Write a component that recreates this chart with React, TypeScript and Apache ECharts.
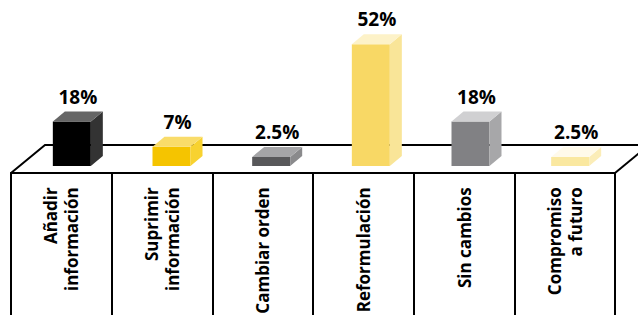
import React, { useEffect, useRef } from "react";
import * as echarts from "echarts";

const categories = [
  "Añadir\ninformación",
  "Suprimir\ninformación",
  "Cambiar orden",
  "Reformulación",
  "Sin cambios",
  "Compromiso\na futuro",
];
const values = [18, 7, 2.5, 52, 18, 2.5];
const frontColors = ["#000000", "#F5C400", "#58585A", "#F8D865", "#818184", "#FAE8A0"];
const sideColors = ["#333333", "#F8D230", "#8A8A8C", "#F9E598", "#A7A7A9", "#FBEDB8"];
const topColors = ["#666666", "#F9DC6A", "#A5A5A7", "#FDF2C8", "#D0D0D2", "#FFFAEA"];

const Y_MIN = -1.5;
const Y_MAX = 60;
const FONT = "'Open Sans', 'DejaVu Sans', sans-serif";

export default function App() {
  const ref = useRef<HTMLDivElement>(null);
  useEffect(() => {
    if (!ref.current) return;
    const chart = echarts.init(ref.current, null, { renderer: "svg" });
    const BAR_W = 38;
    const DX = 12;
    const DY = 10;
    chart.setOption({
      animation: false,
      backgroundColor: "#ffffff",
      grid: [
        { left: 22, width: 598, top: 26, height: 140 },
        { left: 11, width: 604, top: 172, height: 1 },
      ],
      xAxis: [
        {
          type: "category",
          gridIndex: 0,
          data: categories,
          show: false,
        },
        {
          type: "category",
          gridIndex: 1,
          data: categories,
          position: "bottom",
          boundaryGap: true,
          axisLine: { show: true, onZero: false, lineStyle: { color: "#000", width: 2 } },
          axisTick: {
            show: true,
            inside: false,
            length: 150,
            interval: 0,
            alignWithLabel: false,
            lineStyle: { color: "#000", width: 2 },
          },
          axisLabel: {
            show: true,
            inside: false,
            rotate: 90,
            interval: 0,
            margin: 15,
            fontFamily: FONT,
            fontWeight: "bold",
            fontSize: 17,
            lineHeight: 21,
            color: "#000",
          },
          splitLine: { show: false },
        },
      ],
      yAxis: [
        { type: "value", gridIndex: 0, min: Y_MIN, max: Y_MAX, show: false },
        { type: "value", gridIndex: 1, min: 0, max: 1, show: false },
      ],
      graphic: [
        {
          type: "polyline",
          z: 0,
          shape: { points: [[11, 173], [45, 145], [660, 145]] },
          style: { stroke: "#000", lineWidth: 2, fill: null },
        },
        {
          type: "line",
          z: 0,
          shape: { x1: 615, y1: 173, x2: 660, y2: 135.9 },
          style: { stroke: "#000", lineWidth: 2 },
        },
      ],
      series: [
        {
          type: "custom",
          xAxisIndex: 0,
          yAxisIndex: 0,
          z: 5,
          data: values.map((v, i) => [i, v]),
          renderItem: (params: any, api: any) => {
            const i = api.value(0);
            const v = api.value(1);
            const topPt = api.coord([i, v]);
            const basePt = api.coord([i, Y_MIN]);
            const cx = topPt[0];
            const x0 = cx - BAR_W / 2;
            const x1 = cx + BAR_W / 2;
            const yt = topPt[1];
            const yb = basePt[1];
            return {
              type: "group",
              children: [
                {
                  type: "rect",
                  shape: { x: x0, y: yt, width: BAR_W, height: yb - yt },
                  style: { fill: frontColors[i] },
                },
                {
                  type: "polygon",
                  shape: {
                    points: [
                      [x1, yt],
                      [x1 + DX, yt - DY],
                      [x1 + DX, yb - DY],
                      [x1, yb],
                    ],
                  },
                  style: { fill: sideColors[i] },
                },
                {
                  type: "polygon",
                  shape: {
                    points: [
                      [x0, yt],
                      [x0 + DX, yt - DY],
                      [x1 + DX, yt - DY],
                      [x1, yt],
                    ],
                  },
                  style: { fill: topColors[i] },
                },
                {
                  type: "text",
                  x: cx + DX / 2,
                  y: yt - 25,
                  style: {
                    text: `${values[i]}%`,
                    fontFamily: FONT,
                    fontWeight: "bold",
                    fontSize: 19,
                    fill: "#000",
                    align: "center",
                    verticalAlign: "middle",
                  },
                },
              ],
            };
          },
        },
      ],
    });
    return () => chart.dispose();
  }, []);
  return (
    <div
      ref={ref}
      style={{ position: "absolute", left: 0, top: 0, width: 638, height: 315 }}
    />
  );
}
